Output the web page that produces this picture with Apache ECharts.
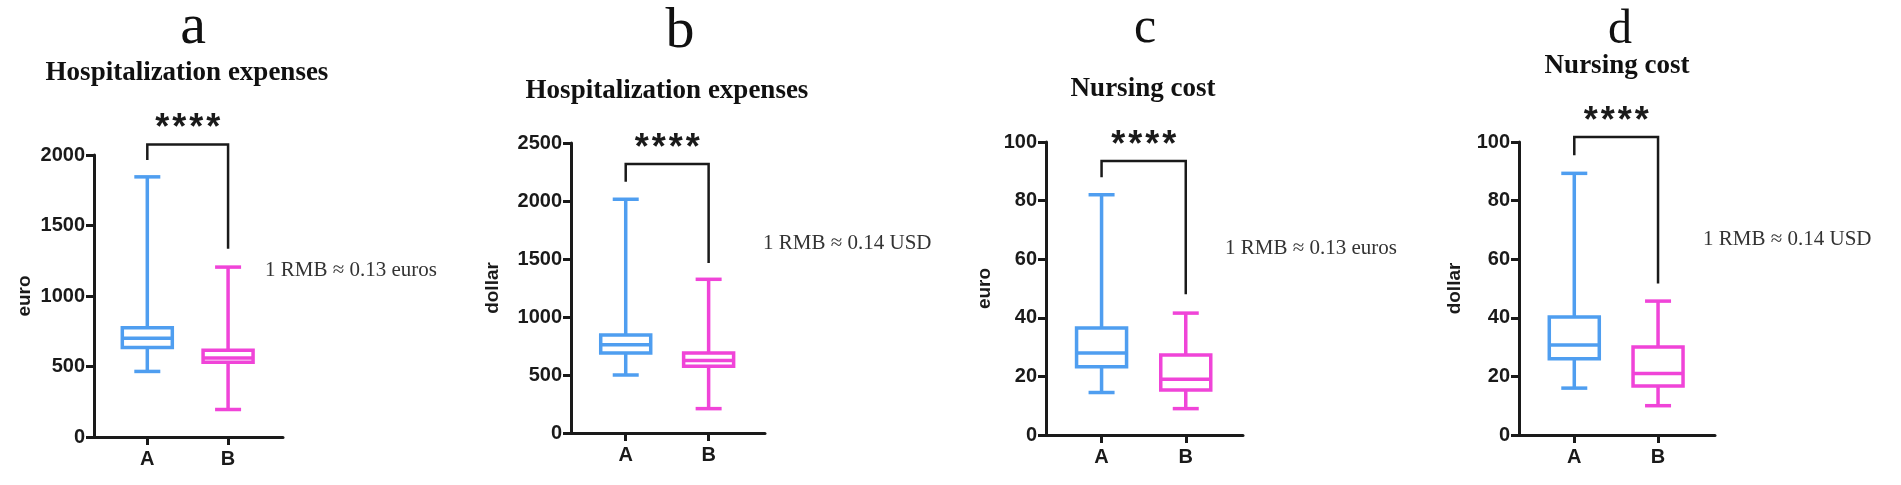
<!DOCTYPE html>
<html>
<head>
<meta charset="utf-8">
<script src="https://cdn.jsdelivr.net/npm/echarts@6/dist/echarts.min.js"></script>
<style>
  html, body { margin: 0; padding: 0; background: #fff; }
  #main { width: 1901px; height: 485px; }
</style>
</head>
<body>
<div id="main"></div>
<script>
// 数据
const groups = ['A', 'B'];
const panelLetters = ['a', 'b', 'c', 'd'];
const panelTitles = ['Hospitalization expenses', 'Hospitalization expenses', 'Nursing cost', 'Nursing cost'];
const unitNames = ['euro', 'dollar', 'euro', 'dollar'];
const rateNotes = ['1 RMB \u2248 0.13 euros', '1 RMB \u2248 0.14 USD', '1 RMB \u2248 0.13 euros', '1 RMB \u2248 0.14 USD'];
const yMax = [2000, 2500, 100, 100];
const yStep = [500, 500, 20, 20];

// [min, Q1, median, Q3, max]
const hospEuroA = [465, 635, 700, 775, 1845];
const hospEuroB = [195, 530, 560, 615, 1205];
const hospUsdA = [500, 690, 760, 845, 2015];
const hospUsdB = [210, 575, 625, 690, 1325];
const nurseEuroA = [14.5, 23.3, 28, 36.5, 82];
const nurseEuroB = [9, 15.4, 19, 27.3, 41.6];
const nurseUsdA = [16, 26, 30.7, 40.3, 89.3];
const nurseUsdB = [10, 16.7, 21, 30, 45.7];
const panelBoxes = [
  [hospEuroA, hospEuroB],
  [hospUsdA, hospUsdB],
  [nurseEuroA, nurseEuroB],
  [nurseUsdA, nurseUsdB]
];

// 显著性括号: [顶部, 左端, 右端]
const brackets = [[2075, 1965, 1335], [2320, 2165, 1465], [93.5, 88, 48], [101.7, 95.5, 51.7]];
const sigLabel = '****';

// 样式
const boxColors = ['#4f9ef0', '#f044d8'];
const grids = [
  { left: 94, top: 155, width: 189, height: 282 },
  { left: 571, top: 143, width: 194, height: 290 },
  { left: 1046, top: 142, width: 197, height: 293 },
  { left: 1519, top: 142, width: 196, height: 293 }
];
const nameGaps = [60, 69, 52, 55];
const letterPos = [[193, 28, 58], [680, 32, 58], [1145, 29, 50], [1620, 30, 48]];
const subPos = [[187, 73], [667, 91], [1143, 89], [1617, 66]];
const notePos = [[265, 270], [763, 243], [1225, 248], [1703, 239]];

const sansBold = { fontFamily: 'Liberation Sans, Arial, sans-serif', fontWeight: 'bold', color: '#1a1a1a' };
const lineW = 3.5;

function renderBox(params, api) {
  const x = api.value(0);
  const c = boxColors[x];
  const lo = api.coord([x, api.value(1)]);
  const q1 = api.coord([x, api.value(2)]);
  const md = api.coord([x, api.value(3)]);
  const q3 = api.coord([x, api.value(4)]);
  const hi = api.coord([x, api.value(5)]);
  const bw = 25, cw = 13;
  const st = { stroke: c, lineWidth: lineW, fill: null };
  return {
    type: 'group',
    children: [
      { type: 'line', shape: { x1: lo[0], y1: lo[1], x2: q1[0], y2: q1[1] }, style: st },
      { type: 'line', shape: { x1: q3[0], y1: q3[1], x2: hi[0], y2: hi[1] }, style: st },
      { type: 'line', shape: { x1: lo[0] - cw, y1: lo[1], x2: lo[0] + cw, y2: lo[1] }, style: st },
      { type: 'line', shape: { x1: hi[0] - cw, y1: hi[1], x2: hi[0] + cw, y2: hi[1] }, style: st },
      { type: 'rect', shape: { x: q3[0] - bw, y: q3[1], width: bw * 2, height: q1[1] - q3[1] }, style: { stroke: c, lineWidth: lineW, fill: '#fff' } },
      { type: 'line', shape: { x1: md[0] - bw, y1: md[1], x2: md[0] + bw, y2: md[1] }, style: st }
    ]
  };
}

function renderBracket(params, api) {
  const top = api.value(0);
  const l0 = api.coord([0, top]);
  const r0 = api.coord([1, top]);
  const l1 = api.coord([0, api.value(1)]);
  const r1 = api.coord([1, api.value(2)]);
  const st = { stroke: '#1a1a1a', lineWidth: 2.5, fill: null };
  const mid = (l0[0] + r0[0]) / 2;
  const stars = sigLabel.split('');
  const gap = 17;
  const children = [{ type: 'polyline', shape: { points: [l1, l0, r0, r1] }, style: st }];
  // 星号逐个排开
  stars.forEach((s, k) => {
    children.push({
      type: 'text',
      x: mid + (k - (stars.length - 1) / 2) * gap,
      y: l0[1] - 15,
      style: {
        text: s, fill: '#1a1a1a', align: 'center', verticalAlign: 'middle',
        font: 'bold 36px "Liberation Sans", Arial, sans-serif'
      }
    });
  });
  return { type: 'group', children: children };
}

const myChart = echarts.init(document.getElementById('main'));

const option = {
  animation: false,
  backgroundColor: '#fff',
  title: [],
  grid: [],
  xAxis: [],
  yAxis: [],
  series: [],
  graphic: []
};

panelBoxes.forEach((boxes, i) => {
  option.grid.push(grids[i]);
  option.xAxis.push({
    gridIndex: i,
    type: 'value',
    min: -0.66,
    max: 1.68,
    splitLine: { show: false },
    axisLine: { onZero: false, lineStyle: { color: '#1a1a1a', width: 3 } },
    axisTick: { customValues: [0, 1], length: 8, lineStyle: { color: '#1a1a1a', width: 3 } },
    axisLabel: {
      customValues: [0, 1], margin: 12, fontSize: 20, ...sansBold,
      formatter: v => groups[Math.round(v)]
    }
  });
  option.yAxis.push({
    gridIndex: i,
    type: 'value',
    min: 0,
    max: yMax[i],
    interval: yStep[i],
    name: unitNames[i],
    nameLocation: 'middle',
    nameGap: nameGaps[i],
    nameTextStyle: { fontSize: 19, ...sansBold },
    splitLine: { show: false },
    axisLine: { show: true, onZero: false, lineStyle: { color: '#1a1a1a', width: 3 } },
    axisTick: { show: true, length: 8, lineStyle: { color: '#1a1a1a', width: 3 } },
    axisLabel: { margin: 9, fontSize: 20, ...sansBold, formatter: v => String(v) }
  });
  option.series.push({
    type: 'custom',
    xAxisIndex: i,
    yAxisIndex: i,
    renderItem: renderBox,
    encode: { x: 0, y: [1, 2, 3, 4, 5] },
    data: boxes.map((b, k) => [k].concat(b)),
    z: 3
  });
  option.series.push({
    type: 'custom',
    xAxisIndex: i,
    yAxisIndex: i,
    clip: false,
    renderItem: renderBracket,
    encode: { x: -1, y: [0, 1, 2] },
    data: [brackets[i]],
    z: 2
  });
  option.title.push({
    text: panelLetters[i],
    left: letterPos[i][0],
    top: letterPos[i][1],
    padding: 0,
    textAlign: 'center',
    textVerticalAlign: 'middle',
    textStyle: { fontFamily: 'Liberation Serif, Times New Roman, serif', fontWeight: 'normal', fontSize: letterPos[i][2], color: '#111' }
  });
  option.title.push({
    text: panelTitles[i],
    left: subPos[i][0],
    top: subPos[i][1],
    padding: 0,
    textAlign: 'center',
    textVerticalAlign: 'middle',
    textStyle: { fontFamily: 'Liberation Serif, Times New Roman, serif', fontWeight: 'bold', fontSize: 27, color: '#111' }
  });
  option.graphic.push({
    type: 'text',
    x: notePos[i][0],
    y: notePos[i][1],
    style: {
      text: rateNotes[i], fill: '#333', align: 'left', verticalAlign: 'middle',
      font: '21px "Liberation Serif", "Times New Roman", serif'
    }
  });
});

myChart.setOption(option);
</script>
</body>
</html>
